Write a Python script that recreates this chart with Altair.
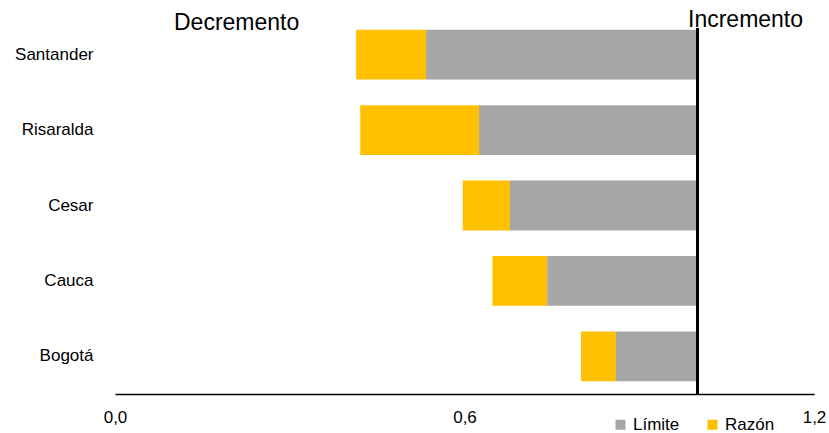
import altair as alt
import pandas as pd

# Data
categorias = ["Santander", "Risaralda", "Cesar", "Cauca", "Bogotá"]
razon = [0.414, 0.421, 0.597, 0.648, 0.800]
limite = [0.534, 0.625, 0.678, 0.742, 0.860]
referencia = 1.0
ticks_x = [0.0, 0.6, 1.2]
series = ["Límite", "Razón"]
colores = ["#A6A6A6", "#FFC000"]

FONT = "Liberation Sans, Arial, sans-serif"

rows = []
for c, r, l in zip(categorias, razon, limite):
    rows.append({"Departamento": c, "Serie": "Razón", "inicio": r, "fin": l})
    rows.append({"Departamento": c, "Serie": "Límite", "inicio": l, "fin": referencia})
df = pd.DataFrame(rows)

x_axis = alt.Axis(title=None, values=ticks_x, grid=False, ticks=False,
                  labelFlush=False, labelPadding=15, labelFontSize=17,
                  labelFont=FONT, labelColor="black", domainColor="black",
                  domainWidth=1.6,
                  labelExpr="replace(format(datum.value, '.1f'), '.', ',')")
x_scale = alt.Scale(domain=[0, 1.2], nice=False, zero=True)

bars = alt.Chart(df).mark_bar().encode(
    y=alt.Y(
        "Departamento:N",
        sort=categorias,
        scale=alt.Scale(paddingInner=0.34, paddingOuter=0.17),
        axis=alt.Axis(title=None, domain=False, ticks=False, labelPadding=22,
                      labelFontSize=17, labelFont=FONT, labelColor="black"),
    ),
    x=alt.X("inicio:Q", scale=x_scale, axis=x_axis),
    x2="fin:Q",
    color=alt.Color(
        "Serie:N",
        scale=alt.Scale(domain=series, range=colores),
        legend=alt.Legend(title=None, orient="none", legendX=497, legendY=399,
                          direction="horizontal", symbolType="square",
                          symbolSize=100, symbolStrokeWidth=0,
                          labelFontSize=17, labelFont=FONT, labelColor="black",
                          labelOffset=4, columnPadding=24, padding=0),
    ),
)

rule = alt.Chart(pd.DataFrame({"inicio": [referencia]})).mark_rule(
    color="black", strokeWidth=3
).encode(x=alt.X("inicio:Q", scale=x_scale, axis=x_axis), y=alt.value(11), y2=alt.value(377))

txt_dec = alt.Chart(pd.DataFrame({"t": ["Decremento"]})).mark_text(
    align="left", baseline="alphabetic", fontSize=23, font=FONT, color="black"
).encode(text="t:N", x=alt.value(59), y=alt.value(13))

txt_inc = alt.Chart(pd.DataFrame({"t": ["Incremento"]})).mark_text(
    align="left", baseline="alphabetic", fontSize=23, font=FONT, color="black"
).encode(text="t:N", x=alt.value(573), y=alt.value(10))

chart = alt.layer(bars, rule, txt_dec, txt_inc).properties(
    width=699, height=377,
    background="white",
    autosize=alt.AutoSizeParams(type="none"),
    padding={"left": 115, "top": 17, "right": 15, "bottom": 39},
).configure_view(stroke=None, strokeWidth=0).configure_axisY(
    domain=False, grid=False
)

chart.save("out.html", embed_options={"renderer": "svg", "actions": False})
